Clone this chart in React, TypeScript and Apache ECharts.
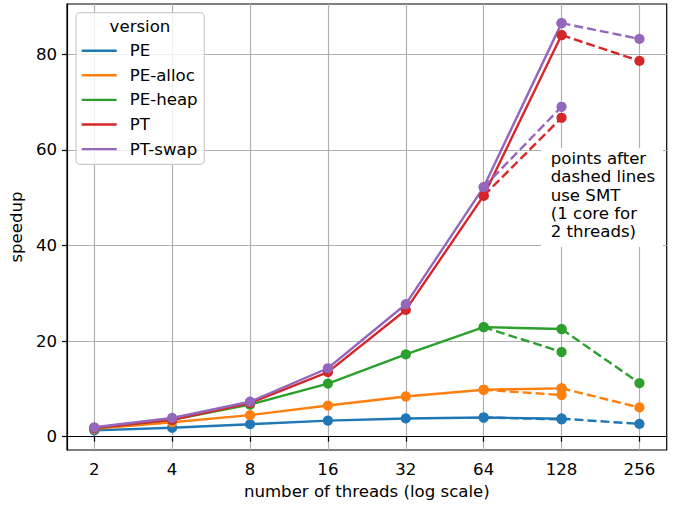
import React, { useEffect, useRef } from "react";
import * as echarts from "echarts";

const versions = ["PE", "PE-alloc", "PE-heap", "PT", "PT-swap"];
const colors = ["#1f77b4", "#ff7f0e", "#2ca02c", "#d62728", "#9467bd"];

// threads without SMT (1 thread per core)
const threads = [2, 4, 8, 16, 32, 64, 128];
const pe = [1.3, 1.85, 2.6, 3.35, 3.8, 4.0, 3.75];
const peAlloc = [1.65, 3.0, 4.5, 6.5, 8.4, 9.8, 10.1];
const peHeap = [1.8, 3.5, 6.7, 11.1, 17.2, 22.9, 22.5];
const pt = [1.8, 3.5, 7.0, 13.5, 26.5, 50.4, 84.0];
const ptSwap = [1.95, 3.9, 7.3, 14.3, 27.7, 52.2, 86.5];

// SMT points (2 threads per core)
const smtThreadsA = [64, 128];
const smtThreadsB = [128, 256];
const smt128 = [3.6, 8.7, 17.7, 66.7, 69.0];
const smt256 = [2.65, 6.1, 11.2, 78.6, 83.2];

const xTicks = [2, 4, 8, 16, 32, 64, 128, 256];
const yTicks = [0, 20, 40, 60, 80];

const annotationLines = [
  "points after",
  "dashed lines",
  "use SMT",
  "(1 core for",
  "2 threads)",
];

const FONT = "DejaVu Sans";
const FS = 16.6;

export default function App() {
  const ref = useRef<HTMLDivElement>(null);
  useEffect(() => {
    document.body.style.margin = "0";
    if (!ref.current) return;
    const chart = echarts.init(ref.current, undefined, { renderer: "svg" });
    const all = [pe, peAlloc, peHeap, pt, ptSwap];
    const series: any[] = [];
    const common = {
      type: "line",
      symbol: "circle",
      symbolSize: 10.2,
      showAllSymbol: true,
    };
    versions.forEach((name, i) => {
      const solid = all[i];
      series.push({
        ...common,
        name,
        data: threads.map((t, k) => [t, solid[k]]),
        lineStyle: { color: colors[i], width: 2.4 },
        itemStyle: { color: colors[i] },
        z: 2 + i * 0.1,
      });
    });
    versions.forEach((name, i) => {
      const solid = all[i];
      const v64 = solid[threads.indexOf(64)];
      const v128 = solid[threads.indexOf(128)];
      series.push({
        ...common,
        name: name + " SMT a",
        data: [
          [smtThreadsA[0], v64],
          [smtThreadsA[1], smt128[i]],
        ],
        lineStyle: { color: colors[i], width: 2.4, type: [9, 4] },
        itemStyle: { color: colors[i] },
        z: 3 + i * 0.1,
      });
      series.push({
        ...common,
        name: name + " SMT b",
        data: [
          [smtThreadsB[0], v128],
          [smtThreadsB[1], smt256[i]],
        ],
        lineStyle: { color: colors[i], width: 2.4, type: [9, 4] },
        itemStyle: { color: colors[i] },
        z: 3 + i * 0.1,
      });
    });

    chart.setOption({
      animation: false,
      backgroundColor: "#ffffff",
      textStyle: { fontFamily: FONT },
      grid: {
        left: 67,
        right: 10.3,
        top: 4,
        bottom: 56,
        show: true,
        borderColor: "#000",
        borderWidth: 1.2,
        containLabel: false,
      },
      xAxis: {
        type: "log",
        logBase: 2,
        min: Math.pow(2, 0.65),
        max: Math.pow(2, 8.35),
        name: "number of threads (log scale)",
        nameLocation: "middle",
        nameGap: 33,
        nameTextStyle: { fontSize: FS, color: "#000", fontFamily: FONT },
        axisLine: { show: true, lineStyle: { color: "#000", width: 1.2 } },
        axisTick: {
          show: true,
          inside: false,
          length: 5,
          lineStyle: { color: "#000", width: 1.2 },
          customValues: xTicks,
        },
        axisLabel: {
          fontSize: FS,
          color: "#000",
          fontFamily: FONT,
          margin: 10.5,
          customValues: xTicks,
          formatter: (v: number) => String(Math.round(v)),
        },
        splitLine: { show: true, lineStyle: { color: "#b0b0b0", width: 1.2 } },
        minorTick: { show: false },
        minorSplitLine: { show: false },
      },
      yAxis: {
        type: "value",
        min: -2.8,
        max: 90.5,
        name: "speedup",
        nameLocation: "middle",
        nameGap: 36,
        nameRotate: 90,
        nameTextStyle: { fontSize: FS, color: "#000", fontFamily: FONT },
        axisLine: { show: true, lineStyle: { color: "#000", width: 1.2 } },
        axisTick: {
          show: true,
          inside: false,
          length: 5,
          lineStyle: { color: "#000", width: 1.2 },
          customValues: yTicks,
        },
        axisLabel: {
          fontSize: FS,
          color: "#000",
          fontFamily: FONT,
          margin: 10,
          customValues: yTicks,
        },
        splitLine: { show: true, lineStyle: { color: "#b0b0b0", width: 1.2 } },
      },
      legend: {
        data: versions,
        orient: "vertical",
        left: 81.7,
        top: 40.7,
        padding: 0,
        itemGap: 4.6,
        itemWidth: 35,
        itemHeight: 2.4,
        icon: "rect",
        z: 12,
        textStyle: {
          fontSize: FS,
          color: "#000",
          fontFamily: FONT,
          lineHeight: 20,
          padding: [0, 0, 0, 8],
        },
      },
      graphic: [
        {
          type: "rect",
          z: 10,
          shape: { x: 76, y: 12.7, width: 128.3, height: 151.6, r: 4 },
          style: {
            fill: "rgba(255,255,255,0.8)",
            stroke: "#cccccc",
            lineWidth: 1.2,
          },
        },
        {
          type: "text",
          z: 11,
          x: 140,
          y: 26,
          style: {
            text: "version",
            fontSize: FS,
            fontFamily: FONT,
            fill: "#000",
            align: "center",
            verticalAlign: "middle",
          },
        },
        {
          type: "rect",
          z: 10,
          shape: { x: 541, y: 148, width: 122, height: 99 },
          style: { fill: "#ffffff", stroke: "none" },
        },
        {
          type: "text",
          z: 11,
          x: 550.7,
          y: 149.1,
          style: {
            text: annotationLines.join("\n"),
            fontSize: FS,
            fontFamily: FONT,
            lineHeight: 18.4,
            fill: "#000",
            align: "left",
            verticalAlign: "top",
          },
        },
      ],
      series,
    });
    return () => chart.dispose();
  }, []);
  return (
    <div
      ref={ref}
      style={{ position: "fixed", left: 0, top: 0, width: 677, height: 506 }}
    />
  );
}
